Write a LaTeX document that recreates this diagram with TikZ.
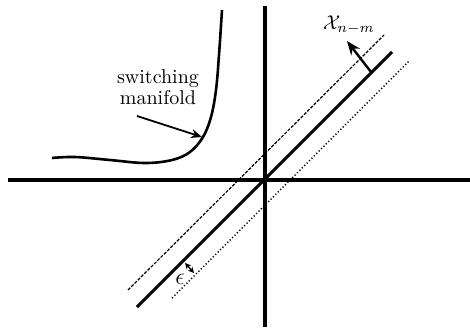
\documentclass[tikz,border=0pt]{standalone}
\usetikzlibrary{arrows.meta,calc}
\begin{document}
\begin{tikzpicture}[x=0.5pt,y=-0.5pt,
  axis/.style={line width=2pt},
  mainline/.style={line width=1.5pt},
  curveline/.style={line width=1.3pt},
  offdash/.style={line width=0.6pt, dash pattern=on 1.6pt off 0.7pt},
  offdot/.style={line width=0.7pt, dash pattern=on 0.6pt off 1.1pt},
  pointer/.style={line width=0.9pt,-{Stealth[length=5.5pt,width=4.5pt]}},
  lbl/.style={inner sep=0pt, font=\fontsize{10}{10.5}\selectfont, align=center}]
\useasboundingbox (0,0) rectangle (470,327);
% origin
\coordinate (O) at (264,180);
% axes
\coordinate (xl) at (8,180);
\coordinate (xr) at (470,180);
\coordinate (yt) at (265,6);
\coordinate (yb) at (265,327);
\draw[axis] (xl) -- (xr);
\draw[axis] (yt) -- (yb);
% main line and offsets
\coordinate (m1) at ($(O)+(-127,127)$);
\coordinate (m2) at ($(O)+(128,-128)$);
\draw[mainline] (m1) -- (m2);
\coordinate (d1) at ($(O)+(-136,110)$);
\coordinate (d2) at ($(O)+(120,-145)$);
\draw[offdash] (d1) -- (d2);
\coordinate (p1) at ($(O)+(-92,118)$);
\coordinate (p2) at ($(O)+(145,-119)$);
\draw[offdot] (p1) -- (p2);
% normal arrow and label
\coordinate (ntail) at (371,72);
\coordinate (nhead) at (347,41);
\draw[line width=1.2pt,-{Stealth[length=7pt,width=5.5pt]}] (ntail) -- (nhead);
\node[lbl] (X) at (349,25) {$\mathcal{X}_{n-m}$};
% epsilon
\coordinate (e1) at (185,263);
\coordinate (e2) at (194,273);
\draw[line width=0.7pt,{Stealth[length=3pt,width=3pt]}-{Stealth[length=3pt,width=3pt]}] (e1) -- (e2);
\node[lbl, font=\fontsize{12}{12}\selectfont] (eps) at (180,279) {$\epsilon$};
% switching manifold curve
\draw[curveline] plot[smooth,tension=0.6] coordinates {(52,158) (75,157) (110,160) (145,163) (172,160) (190,152) (203,137) (211,117) (216,90) (219,55) (222,10)};
\coordinate (ctip) at (202,137);
\node[lbl] (sm) at (158,87) {switching\\manifold};
\coordinate (stail) at (137,116);
\draw[pointer] (stail) -- (ctip);
\end{tikzpicture}
\end{document}
